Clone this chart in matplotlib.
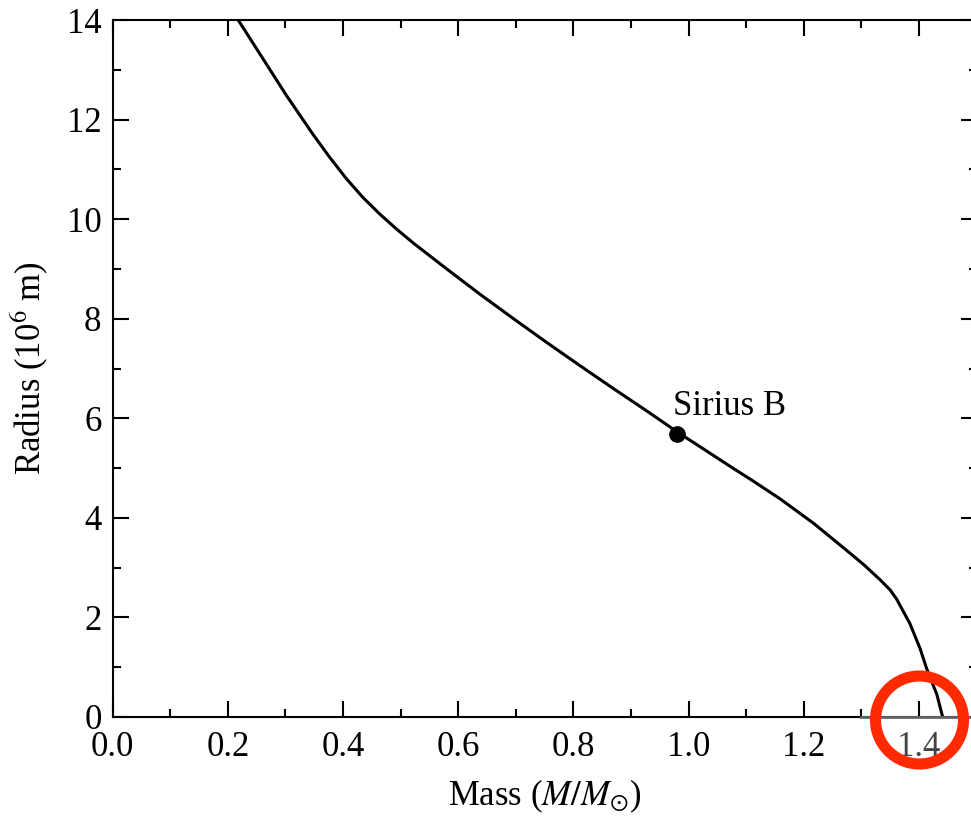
import matplotlib
matplotlib.use("Agg")
import matplotlib.pyplot as plt
from matplotlib.patches import Ellipse
from matplotlib.ticker import MultipleLocator

# white dwarf mass-radius relation
mass = [0.218, 0.26, 0.302, 0.348, 0.377, 0.406, 0.435, 0.464, 0.493, 0.522,
        0.580, 0.638, 0.696, 0.754, 0.811, 0.869, 0.927, 0.981, 1.021, 1.078,
        1.108, 1.159, 1.217, 1.274, 1.305, 1.333, 1.35, 1.361, 1.384, 1.402,
        1.413, 1.431, 1.441]
radius = [14.0, 13.24, 12.48, 11.70, 11.24, 10.81, 10.43, 10.10, 9.80, 9.52,
          9.00, 8.49, 8.00, 7.52, 7.06, 6.60, 6.15, 5.72, 5.42, 4.99,
          4.77, 4.38, 3.89, 3.35, 3.05, 2.75, 2.55, 2.37, 1.88, 1.37,
          0.98, 0.45, 0.0]

sirius_mass = 0.98
sirius_radius = 5.69
sirius_label = "Sirius B"

plt.rcParams["font.family"] = ["Liberation Serif", "DejaVu Serif"]
plt.rcParams["mathtext.fontset"] = "stix"

fig = plt.figure(figsize=(9.71, 8.17), dpi=100)
ax = fig.add_axes([0.116, 0.1224, 0.8898, 0.8531])

ax.plot(mass, radius, color="black", lw=2.2, solid_joinstyle="round")
ax.plot([sirius_mass], [sirius_radius], "o", color="black", ms=11)
ax.text(sirius_mass - 0.008, 6.06, sirius_label, fontsize=25,
        ha="left", va="baseline")

ax.set_xlim(0, 1.5)
ax.set_ylim(0, 14)
ax.xaxis.set_major_locator(MultipleLocator(0.2))
ax.xaxis.set_minor_locator(MultipleLocator(0.1))
ax.yaxis.set_major_locator(MultipleLocator(2))
ax.yaxis.set_minor_locator(MultipleLocator(1))
ax.xaxis.set_major_formatter(lambda v, p: f"{v:.1f}")
ax.yaxis.set_major_formatter(lambda v, p: f"{v:.0f}")

ax.tick_params(which="both", direction="in", top=True, right=True,
               width=1.5, labelsize=25)
ax.tick_params(which="major", length=11.5)
ax.tick_params(which="minor", length=6)
ax.tick_params(axis="x", pad=10)
ax.tick_params(axis="y", pad=8)
for s in ax.spines.values():
    s.set_linewidth(1.5)

ax.set_xlabel(r"Mass ($M/M_{\odot}$)", fontsize=25, labelpad=10)
ax.set_ylabel(r"Radius (10$^6$ m)", fontsize=25, labelpad=12)

# the magnified bit near the Chandrasekhar limit looks greyer
ax.plot([1.3, 1.5], [0, 0], color="#666666", lw=2, clip_on=False, zorder=5)
for lab in ax.get_xticklabels():
    if lab.get_text() == "1.4":
        lab.set_color("#444444")

# red highlight ring
ring = Ellipse((919.5 / 971, 1 - 720 / 817), 2 * 44 / 971, 2 * 44 / 817,
               transform=fig.transFigure, fill=False, edgecolor="#ff2a00",
               lw=8, zorder=10)
fig.patches.append(ring)

fig.savefig("out.png", dpi=100)
